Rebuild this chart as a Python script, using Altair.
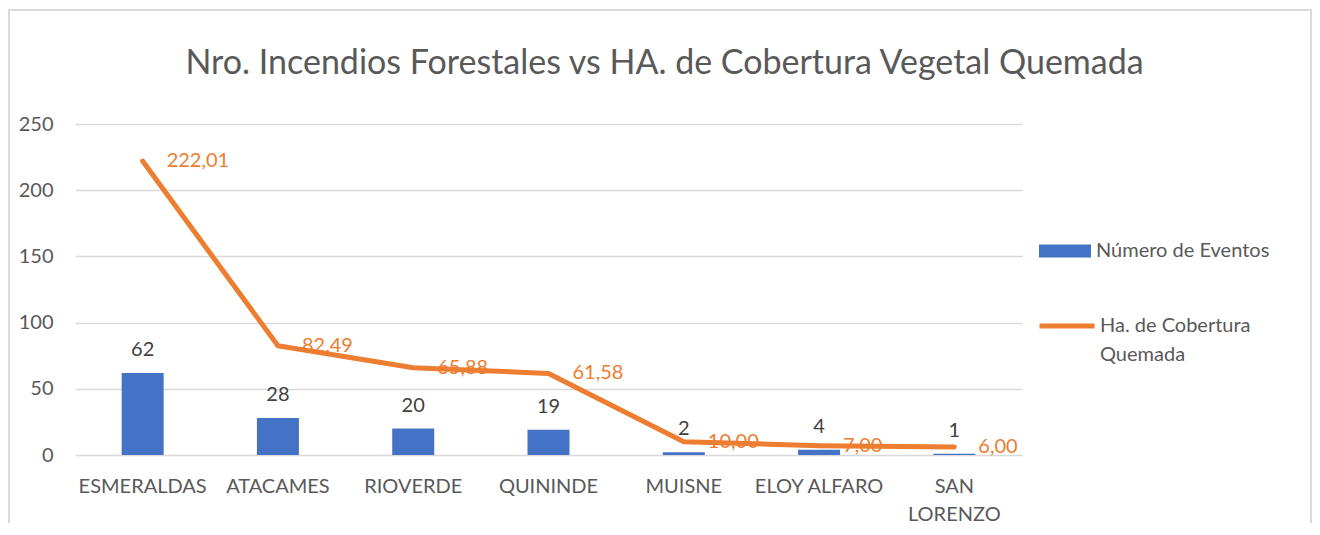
import altair as alt
import pandas as pd

categorias = ["ESMERALDAS", "ATACAMES", "RIOVERDE", "QUININDE", "MUISNE", "ELOY ALFARO", "SAN LORENZO"]
eventos = [62, 28, 20, 19, 2, 4, 1]
hectareas = [222.01, 82.49, 65.88, 61.58, 10.00, 7.00, 6.00]
y_ticks = [0, 50, 100, 150, 200, 250]

serie_barras = "Número de Eventos"
serie_linea = "Ha. de Cobertura Quemada"

df = pd.DataFrame({
    "cat": categorias,
    "eventos": eventos,
    "ha": hectareas,
    "ha_txt": [f"{v:.2f}".replace(".", ",") for v in hectareas],
    "s1": [serie_barras] * len(categorias),
    "s2": [serie_linea] * len(categorias),
})

FONT = "Lato"
GRAY = "#595959"
BLUE = "#4472C4"
ORANGE = "#ED7D31"

x = alt.X(
    "cat:N", sort=categorias, title=None,
    scale=alt.Scale(paddingInner=0, paddingOuter=0),
    axis=alt.Axis(
        labelAngle=0, domain=False, ticks=False, grid=False, labelPadding=21,
        labelFontSize=20, labelColor=GRAY, labelFont=FONT, labelLimit=300,
        labelLineHeight=28, labelBaseline="top",
        labelExpr="datum.value == 'SAN LORENZO' ? ['SAN', 'LORENZO'] : datum.value",
    ),
)
y_scale = alt.Scale(domain=[0, 250], nice=False)

base = alt.Chart(df).encode(x=x)

bars = base.mark_bar(size=42).encode(
    y=alt.Y("eventos:Q", scale=y_scale, title=None,
            axis=alt.Axis(values=y_ticks, domain=False, ticks=False, labelPadding=22,
                          labelFontSize=20, labelColor=GRAY, labelFont=FONT,
                          grid=True, gridColor="#D9D9D9", gridWidth=1.5)),
    color=alt.Color("s1:N", scale=alt.Scale(domain=[serie_barras], range=[BLUE]),
                    legend=alt.Legend(title=None, orient="none", legendX=964, legendY=101,
                                      symbolType="M-1,-0.25H1V0.25H-1Z", symbolSize=2704,
                                      symbolStrokeWidth=0, labelOffset=5, padding=0, labelLimit=400,
                                      labelFontSize=20, labelColor=GRAY, labelFont=FONT)),
)

bar_labels = base.mark_text(fontSize=20, font=FONT, color="#404040", baseline="alphabetic", dy=-17).encode(
    y=alt.Y("eventos:Q", scale=y_scale),
    text=alt.Text("eventos:Q"),
)

line = base.mark_line(strokeWidth=5, strokeCap="round", strokeJoin="round").encode(
    y=alt.Y("ha:Q", scale=y_scale),
    stroke=alt.Stroke("s2:N", scale=alt.Scale(domain=[serie_linea], range=[ORANGE]),
                      legend=alt.Legend(title=None, orient="none", legendX=962, legendY=172,
                                        symbolType="stroke", symbolSize=3025, symbolStrokeWidth=5,
                                        labelOffset=3, padding=0, labelBaseline="middle", labelLimit=400,
                                        labelExpr="datum.label == 'Ha. de Cobertura Quemada' ? ['Ha. de Cobertura', 'Quemada'] : datum.label",
                                        labelFontSize=20, labelColor=GRAY, labelFont=FONT)),
)

line_labels = base.mark_text(fontSize=20, font=FONT, color=ORANGE, align="left", baseline="middle", dx=24).encode(
    y=alt.Y("ha:Q", scale=y_scale),
    text="ha_txt:N",
)

frame = alt.Chart(pd.DataFrame({"k": [0]})).mark_rect(fillOpacity=0, stroke="#D9D9D9", strokeWidth=2).encode(
    x=alt.value(-66), x2=alt.value(1236), y=alt.value(-114), y2=alt.value(420),
)

chart = alt.layer(frame, bars, line_labels, line, bar_labels).properties(
    width=947, height=331,
    padding={"left": 67, "top": 116, "right": 290, "bottom": 68},
    autosize=alt.AutoSizeParams(type="none"),
    title=alt.Title("Nro. Incendios Forestales vs HA. de Cobertura Vegetal Quemada",
                    fontSize=34, font=FONT, color=GRAY, fontWeight="normal",
                    anchor="middle", dx=116, offset=-99, baseline="alphabetic"),
).resolve_scale(y="shared").configure(
    background="white", style={"guide-label": {"lineHeight": 29}}
).configure_view(stroke=None, strokeWidth=0)

chart.save("out.html", embed_options={"renderer": "svg", "actions": False})
